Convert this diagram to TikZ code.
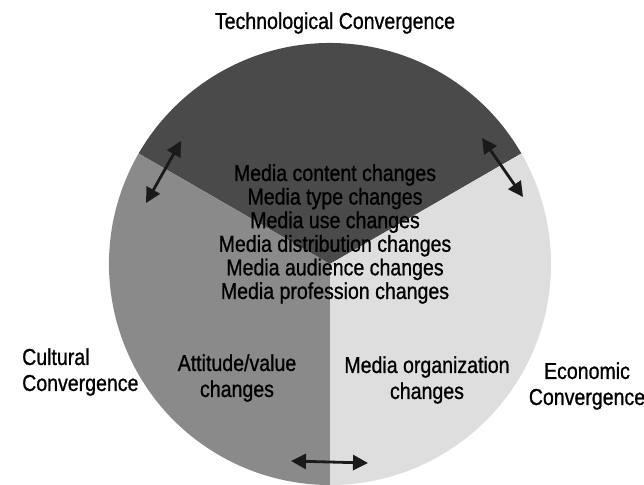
\documentclass[tikz,border=0pt]{standalone}
\usepackage{fontspec}
\setmainfont[FakeStretch=0.85, BoldFont={Liberation Sans}, BoldFeatures={FakeBold=0.9}]{Liberation Sans}
\usetikzlibrary{arrows.meta}

\definecolor{techfill}{HTML}{4A4A4A}
\definecolor{cultfill}{HTML}{8A8A8A}
\definecolor{econfill}{HTML}{DEDEDE}
\definecolor{inkdark}{HTML}{1A1A1A}

\begin{document}
\begin{tikzpicture}[x=1pt,y=-1pt,
  lbl/.style={font=\bfseries\fontsize{23}{26}\selectfont, align=center, inner sep=0pt},
  stack/.style={font=\bfseries\fontsize{23}{23.6}\selectfont, align=center, inner sep=0pt},
  link/.style={line width=2.8pt, draw=inkdark,
    {Triangle[length=15pt,width=15pt]}-{Triangle[length=15pt,width=15pt]}}
]
\fill[white] (0,0) rectangle (644,484);
\useasboundingbox (0,0) rectangle (644,484);

% pie centre and radius
\coordinate (O) at (330,264);
\def\R{221}

% three 120-degree sectors
\fill[techfill] (O) -- ++(-30:\R) arc[start angle=-30, end angle=-150, radius=\R] -- cycle;
\fill[cultfill] (O) -- ++(-150:\R) arc[start angle=-150, end angle=-270, radius=\R] -- cycle;
\fill[econfill] (O) -- ++(90:\R) arc[start angle=90, end angle=-30, radius=\R] -- cycle;

% arrows across the sector borders
\coordinate (tlA) at (181,141);
\coordinate (tlB) at (146,203);
\coordinate (trA) at (482,138);
\coordinate (trB) at (523,197);
\coordinate (btA) at (291,461);
\coordinate (btB) at (368,463);
\draw[link] (tlA) -- (tlB);
\draw[link] (trA) -- (trB);
\draw[link] (btA) -- (btB);

% labels
\node[lbl] (tech) at (335,23) {Technological Convergence};
\node[lbl, align=left, anchor=west] (cult) at (22,372) {Cultural\\Convergence};
\node[lbl] (econ) at (587,386) {Economic\\Convergence};

\node[stack] (media) at (335,234) {Media content changes\\Media type changes\\Media use changes\\Media distribution changes\\Media audience changes\\Media profession changes};

\node[lbl] (att) at (237,378) {Attitude/value\\changes};
\node[lbl] (org) at (427,380) {Media organization\\changes};
\end{tikzpicture}
\end{document}
